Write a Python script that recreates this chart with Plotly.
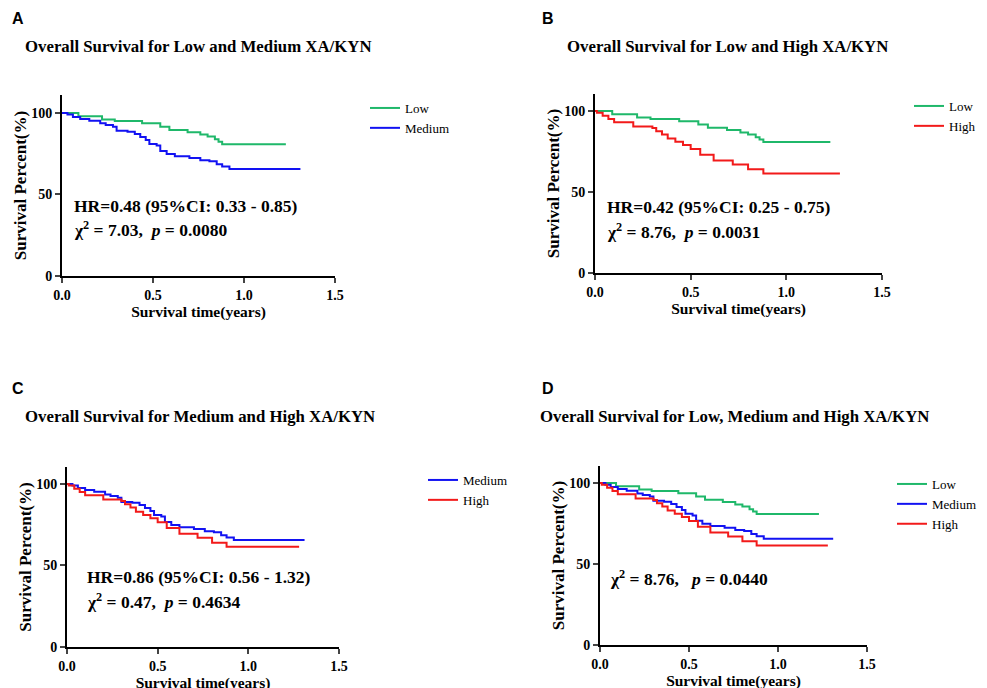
import plotly.graph_objects as go

W, H = 987, 688
OFF = 8  # page body margin offset of the rendered figure

# ---- data (Kaplan-Meier step curves) ----
low_t = [0, 0.09, 0.22, 0.29, 0.44, 0.54, 0.59, 0.69, 0.76, 0.80, 0.84, 0.86, 0.88, 1.23]
low_s = [100, 98, 96, 95, 93.7, 91.6, 89.6, 88.2, 86.8, 85.5, 83.8, 82.4, 80.8, 80.8]

med_t = [0, 0.03, 0.06, 0.10, 0.15, 0.21, 0.24, 0.28, 0.30, 0.36, 0.40, 0.43, 0.46, 0.48,
         0.52, 0.54, 0.575, 0.62, 0.70, 0.76, 0.81, 0.85, 0.88, 0.92, 1.31]
med_s = [100, 99, 97.5, 96.3, 95.2, 93.6, 92.6, 91.6, 89, 88.5, 87.1, 85.2, 83.4, 81,
         80, 76.7, 74.8, 73.4, 72.4, 71, 70.4, 68.5, 67.1, 65.6, 65.6]

high_t = [0, 0.01, 0.04, 0.07, 0.10, 0.20, 0.30, 0.32, 0.35, 0.38, 0.42, 0.46, 0.50,
          0.55, 0.62, 0.72, 0.80, 0.88, 1.28]
high_s = [100, 99, 97, 95, 93, 90.5, 89.5, 87.5, 85.5, 83, 81, 79, 76.5,
          73, 69.5, 67, 64, 61.5, 61.5]

x_ticks = [0.0, 0.5, 1.0, 1.5]
x_tick_labels = ["0.0", "0.5", "1.0", "1.5"]
y_ticks = [0, 50, 100]
y_tick_labels = ["0", "50", "100"]

panel_letters = ["A", "B", "C", "D"]
panel_titles = [
    "Overall Survival for Low and Medium XA/KYN",
    "Overall Survival for Low and High XA/KYN",
    "Overall Survival for Medium and High XA/KYN",
    "Overall Survival for Low, Medium and High XA/KYN",
]
stat_lines = [
    ["HR=0.48 (95%CI: 0.33 - 0.85)", "χ<sup>2</sup> = 7.03,  <i>p</i> = 0.0080"],
    ["HR=0.42 (95%CI: 0.25 - 0.75)", "χ<sup>2</sup> = 8.76,  <i>p</i> = 0.0031"],
    ["HR=0.86 (95%CI: 0.56 - 1.32)", "χ<sup>2</sup> = 0.47,  <i>p</i> = 0.4634"],
    ["χ<sup>2</sup> = 8.76,   <i>p</i> = 0.0440"],
]

GREEN = "#1fb86a"
BLUE = "#1212f2"
RED = "#f21a1a"
groups = {
    "Low": (low_t, low_s, GREEN),
    "Medium": (med_t, med_s, BLUE),
    "High": (high_t, high_s, RED),
}
panel_groups = [["Low", "Medium"], ["Low", "High"], ["Medium", "High"], ["Low", "Medium", "High"]]

# ---- layout geometry (screen pixels) ----
panels = [
    dict(x0=62, x1=335, yb=276, yt=95),
    dict(x0=595, x1=882, yb=273, yt=94),
    dict(x0=67, x1=339, yb=647, yt=467),
    dict(x0=600, x1=867, yb=645, yt=466),
]
ymax = [111, 110.5, 110.4, 110.5]
letter_pos = [(10, 18), (540, 18), (10, 388), (540, 388)]
title_pos = [(23, 47), (565, 47), (23, 417), (538, 417)]
stat_pos = [(72, 206, 229), (605, 207, 231), (85, 577, 601), (608, 578, None)]
legend_pos = [(365, 93), (909, 91), (423, 465), (892, 469)]


def px(x):
    return (x - OFF) / W


def py(y):
    return 1 - (y - OFF) / H


SERIF = "Liberation Serif"
fig = go.Figure()
layout = dict(
    width=W, height=H,
    margin=dict(l=0, r=0, t=0, b=0, autoexpand=False),
    paper_bgcolor="white", plot_bgcolor="white",
    showlegend=True,
    annotations=[],
)

for i, p in enumerate(panels):
    n = "" if i == 0 else str(i + 1)
    lg = "legend" if i == 0 else f"legend{i + 1}"
    for g in panel_groups[i]:
        t, s, c = groups[g]
        fig.add_trace(go.Scatter(
            x=t, y=s, mode="lines", line=dict(color=c, width=2, shape="hv"),
            name=g, xaxis="x" + n, yaxis="y" + n, legend=lg,
        ))
    layout["xaxis" + n] = dict(
        domain=[px(p["x0"]), px(p["x1"])], range=[0, 1.5], anchor="y" + n,
        tickvals=x_ticks, ticktext=x_tick_labels, ticks="outside", ticklen=5, tickwidth=2,
        showline=True, linewidth=2, linecolor="black", showgrid=False, zeroline=False,
        automargin=False,
        tickfont=dict(family=SERIF, size=14, color="black", weight="bold"),
        title=dict(text="<b>Survival time(years)</b>", standoff=4,
                   font=dict(family=SERIF, size=15.5, color="black")),
    )
    layout["yaxis" + n] = dict(
        domain=[py(p["yb"]), py(p["yt"])], range=[0, ymax[i]], anchor="x" + n,
        tickvals=y_ticks, ticktext=y_tick_labels, ticks="outside", ticklen=5, tickwidth=2,
        showline=True, linewidth=2, linecolor="black", showgrid=False, zeroline=False,
        automargin=False,
        tickfont=dict(family=SERIF, size=14, color="black", weight="bold"),
        title=dict(text="<b>Survival Percent(%)</b>", standoff=0,
                   font=dict(family=SERIF, size=17, color="black")),
    )
    lx, ly = legend_pos[i]
    layout[lg] = dict(
        x=px(lx), y=py(ly), xanchor="left", yanchor="top",
        font=dict(family=SERIF, size=13, color="black"),
        bgcolor="rgba(0,0,0,0)", tracegroupgap=0, itemclick=False,
    )
    ax, ay = letter_pos[i]
    layout["annotations"].append(dict(
        text="<b>" + panel_letters[i] + "</b>", x=px(ax), y=py(ay), xref="paper", yref="paper",
        xanchor="left", yanchor="middle", showarrow=False,
        font=dict(family="Liberation Sans", size=16, color="black")))
    tx, ty = title_pos[i]
    layout["annotations"].append(dict(
        text="<b>" + panel_titles[i] + "</b>", x=px(tx), y=py(ty), xref="paper", yref="paper",
        xanchor="left", yanchor="middle", showarrow=False,
        font=dict(family=SERIF, size=16.8, color="black")))
    sx, sy1, sy2 = stat_pos[i]
    ys = [sy1] if sy2 is None else [sy1, sy2]
    for line, yy in zip(stat_lines[i], ys):
        layout["annotations"].append(dict(
            text="<b>" + line + "</b>", x=px(sx), y=py(yy), xref="paper", yref="paper",
            xanchor="left", yanchor="middle", showarrow=False,
            font=dict(family=SERIF, size=17.5, color="black")))

fig.update_layout(**layout)
fig.write_html("out.html")
